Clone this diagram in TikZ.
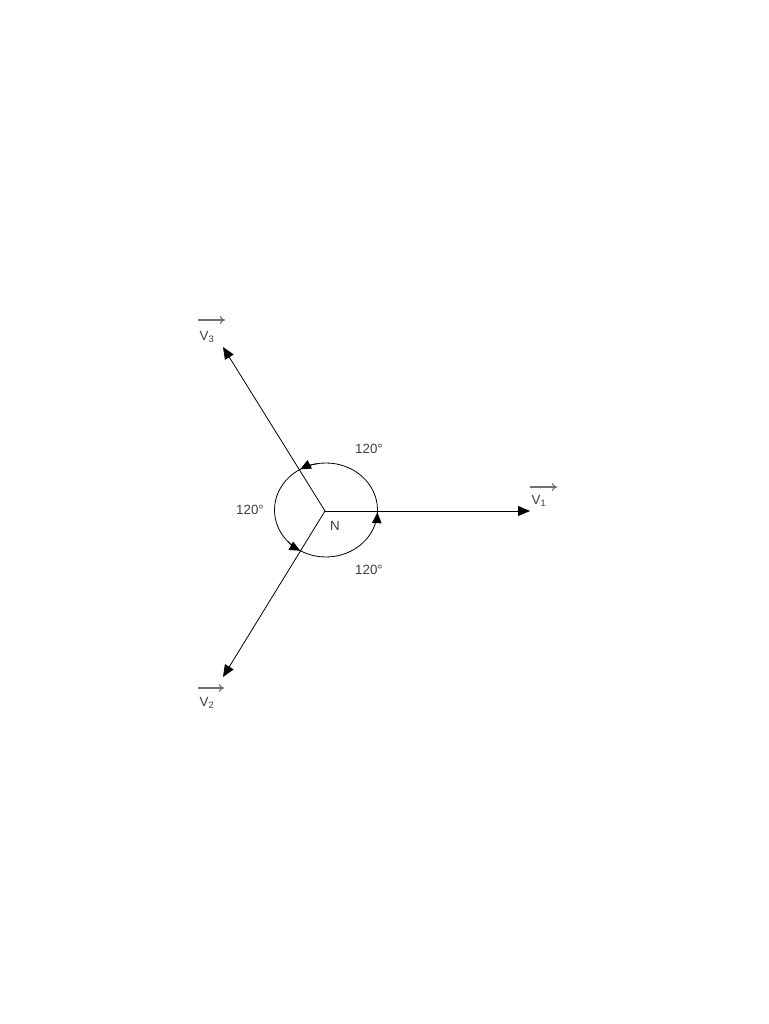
\documentclass[tikz,border=0pt]{standalone}
\usepackage{fontspec}
\setmainfont{Liberation Sans}
\usetikzlibrary{arrows.meta,calc}

\definecolor{txtgray}{HTML}{3C3C3C}
\definecolor{vecgray}{HTML}{707070}

\tikzset{
  phasor/.style={semithick,-{Triangle[length=9pt,width=7.5pt]}},
  turn/.style={semithick,-{Triangle[length=8pt,width=7pt]}},
  lbl/.style={text=txtgray,font=\fontsize{10}{12}\selectfont,inner sep=0pt},
  vecbar/.style={vecgray,thick,-{To[length=4pt,width=6pt]}}
}

\begin{document}
\begin{tikzpicture}[x=0.75pt,y=0.75pt]
\useasboundingbox (-325,-513) rectangle (443,511);

% phasors from the neutral point
\coordinate (N) at (0,0);
\coordinate (tip1) at (205,0);
\coordinate (tip2) at (-102,-166);
\coordinate (tip3) at (-102,164);
\draw[phasor] (N) -- (tip1);
\draw[phasor] (N) -- (tip2);
\draw[phasor] (N) -- (tip3);

% the 120 degree circle
\coordinate (C) at (1,1);
\draw[semithick] (C) ellipse [x radius=51.5, y radius=47];
\draw[turn] ($(C)+(-14:51.5 and 47)$) arc[start angle=-14, end angle=-3, x radius=51.5, y radius=47];
\draw[turn] ($(C)+(100:51.5 and 47)$) arc[start angle=100, end angle=120, x radius=51.5, y radius=47];
\draw[turn] ($(C)+(222:51.5 and 47)$) arc[start angle=222, end angle=240, x radius=51.5, y radius=47];

\node[lbl] (nN) at (10,-15) {N};
\node[lbl] (ang12) at (44,62) {120°};
\node[lbl] (ang23) at (-75,1) {120°};
\node[lbl] (ang31) at (44,-59) {120°};

% vector names
\node[lbl] (lblV1) at (214,10) {V\textsubscript{1}};
\node[lbl] (lblV2) at (-118,-192) {V\textsubscript{2}};
\node[lbl] (lblV3) at (-118,174) {V\textsubscript{3}};
\coordinate (b1a) at (205,24);  \coordinate (b1b) at (232,24);
\coordinate (b2a) at (-127,-177); \coordinate (b2b) at (-101,-177);
\coordinate (b3a) at (-127,191); \coordinate (b3b) at (-100,191);
\draw[vecbar] (b1a) -- (b1b);
\draw[vecbar] (b2a) -- (b2b);
\draw[vecbar] (b3a) -- (b3b);

\end{tikzpicture}
\end{document}
